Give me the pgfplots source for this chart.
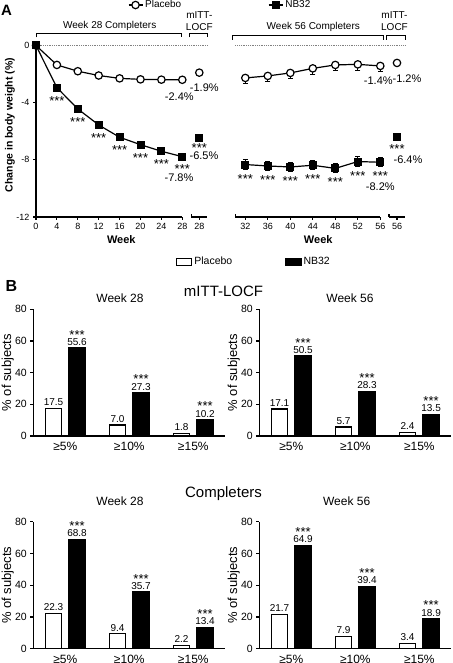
\documentclass[border=0pt]{standalone}
\usepackage{pgfplots}
\pgfplotsset{compat=1.18}
\usepackage{fontspec}
\setmainfont{Liberation Sans}
\newcommand{\fs}[1]{\fontsize{#1}{#1}\selectfont}
\tikzset{st/.style={font=\fs{13}}}
\pgfplotsset{
  base/.style={scale only axis, clip=false,
    /pgf/number format/assume math mode=true,
    axis line style={-, line width=1.1pt},
    tick align=outside, major tick length=3pt,
    every tick/.style={line width=1.1pt, black},
  },
  panelA/.style={base, ymin=-12, ymax=0, height=171.5pt,
    ticklabel style={font=\fs{9}},
  },
  placebo/.style={black, line width=1.2pt, mark=*, mark size=3.7pt, mark options={fill=white, line width=1.2pt}},
  nb/.style={black, line width=1.2pt, mark=square*, mark size=3.4pt, mark options={fill=black}},
  bars/.style={base, ymin=0, ymax=80, xmin=-0.5, xmax=2.5, width=192pt,
     axis x line*=bottom, axis y line*=left, xtick={0,1,2}, xticklabels={≥5\%,≥10\%,≥15\%},
     xtick style={draw=none}, ytick={0,20,40,60,80},
     yticklabel style={font=\fs{10.5}}, xticklabel style={font=\fs{12}},
     ylabel={\% of subjects}, ylabel style={font=\fs{13}, at={(axis description cs:-0.133,0.5)}, anchor=center},
  },
  barcommon/.style={ybar, bar width=16.5pt, bar shift=0pt, draw=black, line width=1.2pt,
     nodes near coords={\pgfmathprintnumber[fixed,fixed zerofill,precision=1]{\pgfplotspointmeta}},
     every node near coord/.append style={font=\fs{10}, inner sep=2pt, black, anchor=south}},
  pbar/.style={barcommon, fill=white,
     legend image code/.code={\draw[draw=black, fill=white, line width=1.2pt] (0pt,-3.5pt) rectangle (15pt,3.5pt);}},
  nbar/.style={barcommon, fill=black,
     legend image code/.code={\draw[draw=black, fill=black, line width=1.2pt] (0pt,-3.5pt) rectangle (15pt,3.5pt);}},
  lineleg/.style={legend image code/.code={\draw[##1, mark repeat=2, mark phase=2] plot coordinates {(0pt,0pt) (7pt,0pt) (14pt,0pt)};}},
}
\begin{document}
\begin{tikzpicture}
\path[use as bounding box] (0pt,0pt) rectangle (452pt,663pt);

% ---------------- Panel A, left (week 28 completers) ----------------
\begin{axis}[panelA, at={(36pt,446pt)}, anchor=south west, width=146.3pt,
  xmin=0, xmax=28, axis x line*=bottom, axis y line*=left,
  xtick={0,4,...,28}, ytick={-12,-8,-4,0},
  xlabel={Week}, xlabel style={font=\bfseries\fs{11}, at={(axis description cs:0.583,-0.134)}, anchor=center},
  ylabel={Change in body weight (\%)}, ylabel style={font=\bfseries\fs{10.5}, at={(axis description cs:-0.178,0.536)}, anchor=center},
  legend style={at={(rel axis cs:0.627,1.236)}, anchor=west, draw=none, fill=none, inner sep=0pt, font=\fs{10}},
]
\draw[gray, densely dotted, line width=0.8pt] (axis cs:0,0) -- (axis cs:32.78,0);
\addplot[placebo, lineleg] coordinates {(0,0) (4,-1.36) (8,-1.80) (12,-2.10) (16,-2.30) (20,-2.37) (24,-2.39) (28,-2.40)};
\addlegendentry{Placebo}
\addplot[nb] coordinates {(0,0) (4,-2.95) (8,-4.44) (12,-5.56) (16,-6.42) (20,-6.94) (24,-7.40) (28,-7.78)};
\node[st, yshift=-13pt] at (axis cs:4,-2.95) {***};
\node[st, yshift=-13pt] at (axis cs:8,-4.44) {***};
\node[st, yshift=-13pt] at (axis cs:12,-5.56) {***};
\node[st, yshift=-13pt] at (axis cs:16,-6.42) {***};
\node[st, yshift=-13pt] at (axis cs:20,-6.94) {***};
\node[st, yshift=-13pt] at (axis cs:24,-7.40) {***};
\node[st, yshift=-12.5pt] at (axis cs:28,-7.78) {***};
\node[font=\fs{11}, xshift=-3pt, yshift=-17pt] at (axis cs:28,-2.40) {-2.4\%};
\node[font=\fs{11}, xshift=-3.3pt, yshift=-21pt] at (axis cs:28,-7.78) {-7.8\%};
\end{axis}

% mITT-LOCF week 28
\begin{axis}[panelA, at={(191.3pt,446pt)}, anchor=south west, width=16pt,
  xmin=26.47, xmax=29.53, axis x line*=bottom, axis y line=none,
  xtick={28}, ytick=\empty,
  extra x ticks={26.47}, extra x tick labels={}, extra x tick style={tick align=inside},
]
\addplot[placebo] coordinates {(28,-1.9)};
\addplot[nb] coordinates {(28,-6.45)};
\node[st, yshift=-10.5pt] at (axis cs:28,-6.45) {***};
\node[font=\fs{11}, xshift=5pt, yshift=-15pt] at (axis cs:28,-1.9) {-1.9\%};
\node[font=\fs{11}, xshift=4.7pt, yshift=-18.4pt] at (axis cs:28,-6.45) {-6.5\%};
\end{axis}

% ---------------- Panel A, right (week 56 completers) ----------------
\begin{axis}[panelA, at={(235.3pt,446pt)}, anchor=south west, width=145pt,
  xmin=30.22, xmax=56, axis x line*=bottom, axis y line=none,
  xtick={32,36,...,56}, ytick=\empty,
  extra x ticks={30.22}, extra x tick labels={}, extra x tick style={tick align=inside},
  xlabel={Week}, xlabel style={font=\bfseries\fs{11}, at={(axis description cs:0.572,-0.134)}, anchor=center},
  legend style={at={(rel axis cs:0.225,1.236)}, anchor=west, draw=none, fill=none, inner sep=0pt, font=\fs{10}},
]
\draw[gray, densely dotted, line width=0.8pt] (axis cs:30.22,0) -- (axis cs:60.4,0);
\addplot[placebo, forget plot, error bars/.cd, y dir=minus, y explicit, error bar style={line width=1pt}, error mark options={rotate=90, mark size=2.5pt, line width=1pt}]
  coordinates {(32,-2.27) -= (0,0.42) (36,-2.13) -= (0,0.42) (40,-1.92) -= (0,0.42) (44,-1.60) -= (0,0.42) (48,-1.36) -= (0,0.42) (52,-1.32) -= (0,0.42) (56,-1.43) -= (0,0.42)};
\addplot[nb, lineleg, error bars/.cd, y dir=both, y explicit, error bar style={line width=1pt}, error mark options={rotate=90, mark size=2.5pt, line width=1pt}]
  coordinates {(32,-8.33) +- (0,0.32) (36,-8.43) +- (0,0.32) (40,-8.50) +- (0,0.32) (44,-8.38) +- (0,0.32) (48,-8.60) +- (0,0.32) (52,-8.12) +- (0,0.32) (56,-8.17) +- (0,0.32)};
\addlegendentry{NB32}
\node[st, yshift=-14pt] at (axis cs:32,-8.33) {***};
\node[st, yshift=-14pt] at (axis cs:36,-8.43) {***};
\node[st, yshift=-14pt] at (axis cs:40,-8.50) {***};
\node[st, yshift=-14pt] at (axis cs:44,-8.38) {***};
\node[st, yshift=-14pt] at (axis cs:48,-8.60) {***};
\node[st, yshift=-14pt] at (axis cs:52,-8.12) {***};
\node[st, yshift=-14pt] at (axis cs:56,-8.17) {***};
\node[font=\fs{11}, xshift=-2pt, yshift=-15pt] at (axis cs:56,-1.43) {-1.4\%};
\node[font=\fs{11}, yshift=-24pt] at (axis cs:56,-8.17) {-8.2\%};
\end{axis}

% mITT-LOCF week 56
\begin{axis}[panelA, at={(389pt,446pt)}, anchor=south west, width=16pt,
  xmin=54.58, xmax=57.42, axis x line*=bottom, axis y line=none,
  xtick={56}, ytick=\empty,
  extra x ticks={54.58}, extra x tick labels={}, extra x tick style={tick align=inside},
]
\addplot[placebo] coordinates {(56,-1.22)};
\addplot[nb] coordinates {(56,-6.40)};
\node[st, yshift=-12pt] at (axis cs:56,-6.40) {***};
\node[font=\fs{11}, xshift=10pt, yshift=-15.7pt] at (axis cs:56,-1.22) {-1.2\%};
\node[font=\fs{11}, xshift=11pt, yshift=-22.4pt] at (axis cs:56,-6.40) {-6.4\%};
\end{axis}

% brackets and headings of panel A
\node[font=\bfseries\fs{15}] at (6.5pt,653pt) {A};
\node[font=\fs{10}] at (109.7pt,637.3pt) {Week 28 Completers};
\draw[line width=1pt] (36pt,625.7pt) -- (36pt,629.7pt) -- (181.7pt,629.7pt) -- (181.7pt,625.7pt);
\node[font=\fs{10}, align=center, inner sep=0pt] at (199.3pt,641.8pt) {mITT-\\[1.6pt]LOCF};
\draw[line width=1pt] (189pt,625.7pt) -- (189pt,629.7pt) -- (207.3pt,629.7pt) -- (207.3pt,625.7pt);
\node[font=\fs{10}] at (313.3pt,636.3pt) {Week 56 Completers};
\draw[line width=1pt] (232.7pt,623pt) -- (232.7pt,627pt) -- (383.3pt,627pt) -- (383.3pt,623pt);
\node[font=\fs{10}, align=center, inner sep=0pt] at (394.5pt,642pt) {mITT-\\[1.6pt]LOCF};
\draw[line width=1pt] (386.7pt,623pt) -- (386.7pt,627pt) -- (405.3pt,627pt) -- (405.3pt,623pt);

% ---------------- Panel B ----------------
\node[font=\bfseries\fs{16}] at (11.5pt,376.5pt) {B};
\node[font=\fs{15}] at (223.5pt,371.3pt) {mITT-LOCF};
\node[font=\fs{15}] at (223.5pt,169.7pt) {Completers};
\node[font=\fs{12}] at (120pt,364.3pt) {Week 28};
\node[font=\fs{12}] at (350pt,364.3pt) {Week 56};
\node[font=\fs{12}] at (120pt,161.3pt) {Week 28};
\node[font=\fs{12}] at (346.7pt,161.3pt) {Week 56};

\begin{axis}[bars, at={(33.3pt,227pt)}, anchor=south west, height=126.7pt,
  legend columns=2,
  legend style={at={(rel axis cs:0.743,1.376)}, anchor=west, draw=none, fill=none, inner sep=0pt, font=\fs{10.5},
    /tikz/every even column/.append style={column sep=51pt}}]
\addplot[pbar] coordinates {(-0.184,17.5) (0.816,7.0) (1.816,1.8)};
\addlegendentry{Placebo}
\addplot[nbar] coordinates {(0.184,55.6) (1.184,27.3) (2.184,10.2)};
\addlegendentry{NB32}
\node[st, yshift=13.4pt] at (axis cs:0.184,55.6) {***};
\node[st, yshift=13.4pt] at (axis cs:1.184,27.3) {***};
\node[st, yshift=13.4pt] at (axis cs:2.184,10.2) {***};
\end{axis}

\begin{axis}[bars, at={(259.3pt,227pt)}, anchor=south west, height=126.7pt]
\addplot[pbar] coordinates {(-0.184,17.1) (0.816,5.7) (1.816,2.4)};
\addplot[nbar] coordinates {(0.184,50.5) (1.184,28.3) (2.184,13.5)};
\node[st, yshift=13.4pt] at (axis cs:0.184,50.5) {***};
\node[st, yshift=13.4pt] at (axis cs:1.184,28.3) {***};
\node[st, yshift=13.4pt] at (axis cs:2.184,13.5) {***};
\end{axis}

\begin{axis}[bars, at={(33.3pt,14.3pt)}, anchor=south west, height=127pt]
\addplot[pbar] coordinates {(-0.184,22.3) (0.816,9.4) (1.816,2.2)};
\addplot[nbar] coordinates {(0.184,68.8) (1.184,35.7) (2.184,13.4)};
\node[st, yshift=13.4pt] at (axis cs:0.184,68.8) {***};
\node[st, yshift=13.4pt] at (axis cs:1.184,35.7) {***};
\node[st, yshift=13.4pt] at (axis cs:2.184,13.4) {***};
\end{axis}

\begin{axis}[bars, at={(259.3pt,14.3pt)}, anchor=south west, height=127pt]
\addplot[pbar] coordinates {(-0.184,21.7) (0.816,7.9) (1.816,3.4)};
\addplot[nbar] coordinates {(0.184,64.9) (1.184,39.4) (2.184,18.9)};
\node[st, yshift=13.4pt] at (axis cs:0.184,64.9) {***};
\node[st, yshift=13.4pt] at (axis cs:1.184,39.4) {***};
\node[st, yshift=13.4pt] at (axis cs:2.184,18.9) {***};
\end{axis}
\end{tikzpicture}
\end{document}
